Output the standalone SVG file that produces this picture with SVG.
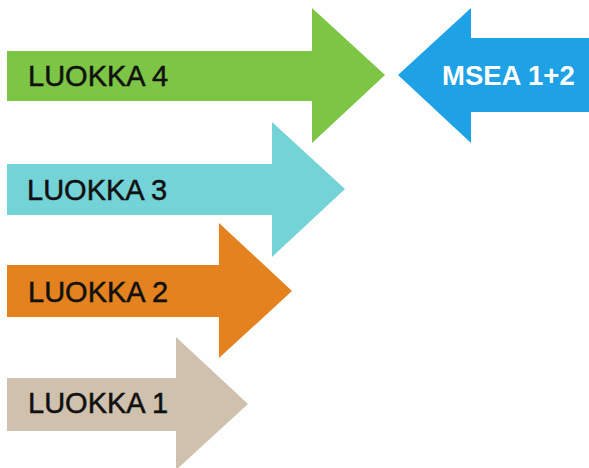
<svg xmlns="http://www.w3.org/2000/svg" width="589" height="468" viewBox="0 0 589 468">
<style>
.lbl{font-family:"Liberation Sans",Arial,sans-serif;font-size:29px;fill:#111;stroke:#111;stroke-width:0.5}
.wlbl{font-family:"Liberation Sans",Arial,sans-serif;font-size:27.5px;font-weight:bold;fill:#fff}
</style>
<rect width="589" height="468" fill="#fff"/>
<g id="luokka4">
<polygon points="7,51 312,51 312,8 385,75 312,143 312,101 7,101" fill="#7DC544"/>
<text class="lbl" x="28" y="86">LUOKKA 4</text>
</g>
<g id="msea">
<polygon points="589,38 471,38 471,8 398,75 471,143 471,112 589,112" fill="#1EA1E5"/>
<text class="wlbl" x="442" y="85">MSEA 1+2</text>
</g>
<g id="luokka3">
<polygon points="7,164 272,164 272,122 345,189 272,257 272,215 7,215" fill="#74D3D7"/>
<text class="lbl" x="27" y="200">LUOKKA 3</text>
</g>
<g id="luokka2">
<polygon points="7,265 219,265 219,223 292,291 219,358 219,317 7,317" fill="#E3821E"/>
<text class="lbl" x="28" y="302">LUOKKA 2</text>
</g>
<g id="luokka1">
<polygon points="7,378 176,378 176,337 248,404 176,470 176,431 7,431" fill="#CFC1AE"/>
<text class="lbl" x="28" y="413">LUOKKA 1</text>
</g>
<g id="connectors"></g>
</svg>
